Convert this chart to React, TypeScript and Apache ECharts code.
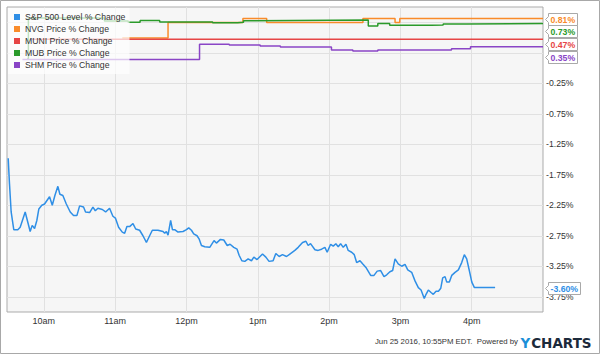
import { useEffect, useRef } from 'react';
import * as echarts from 'echarts';

// time = minutes since midnight, value = % change
const spxPoints: [number, number][] = [
  [570, -1.48], [571.1, -1.9], [572.5, -2.36], [574.7, -2.65], [578.1, -2.65], [580.1, -2.61],
  [584.3, -2.36], [588.5, -2.68], [590.2, -2.58], [592.2, -2.63], [594.1, -2.5], [595.8, -2.31],
  [598.3, -2.25], [600.6, -2.23], [604.8, -2.11], [607.1, -2.25], [609.3, -2.09], [611.8, -1.94],
  [613.5, -2.07], [616, -2.09], [618.9, -2.23], [622.2, -2.36], [625, -2.42], [627.8, -2.42],
  [630.1, -2.26], [633.4, -2.28], [635.1, -2.36], [638.5, -2.37], [641.3, -2.28], [643.3, -2.34],
  [645.5, -2.3], [649.2, -2.32], [652, -2.36], [655.3, -2.3], [658.1, -2.43], [660.2, -2.46],
  [662.9, -2.61], [666, -2.69], [668, -2.71], [669.9, -2.6], [672.2, -2.6], [675, -2.55],
  [677.3, -2.64], [680.6, -2.66], [683.4, -2.75], [686.3, -2.86], [689, -2.75], [691.3, -2.66],
  [696, -2.66], [700.3, -2.68], [701.7, -2.71], [703.1, -2.68], [704.5, -2.74], [706.7, -2.5],
  [708.2, -2.65], [710.1, -2.65], [712.9, -2.69], [717.1, -2.68], [720, -2.65], [721.9, -2.62],
  [724.2, -2.66], [726.1, -2.72], [728.9, -2.75], [730.6, -2.8], [732.6, -2.91], [735.4, -2.93],
  [739.6, -2.94], [743.2, -2.83], [745.2, -2.87], [748.6, -2.81], [751.4, -2.82], [754.3, -2.91],
  [756.7, -2.89], [759.8, -2.94], [762.6, -2.97], [764.3, -3.07], [766.6, -3.16], [769.1, -3.17],
  [771.9, -3.13], [774.7, -3.16], [776.7, -3.1], [779.4, -3.14], [784, -3.05], [786.8, -3.1],
  [789.5, -3.17], [792.9, -3.16], [795.2, -3.04], [798, -3.09], [800.8, -3.06], [804.2, -3.09],
  [807, -3.05], [811.2, -2.99], [814, -2.94], [817.7, -2.86], [820.5, -2.84], [822.4, -2.91],
  [824.4, -2.88], [828.1, -2.98], [830.8, -2.99], [833.7, -2.97], [836.5, -2.94], [838.4, -3.02],
  [841.3, -2.89], [843.5, -2.92], [845.7, -2.88], [847.7, -2.93], [849.7, -2.88], [851.9, -2.94],
  [854.2, -2.89], [856.1, -2.99], [859, -3.02], [861.2, -3.06], [863.2, -3.19], [866, -3.16],
  [868.2, -3.21], [871, -3.27], [875, -3.4], [877.8, -3.4], [880.5, -3.33], [883.4, -3.32],
  [886.2, -3.42], [888.5, -3.39], [891.2, -3.34], [893.5, -3.32], [895.5, -3.13], [898.2, -3.21],
  [901.1, -3.25], [903.9, -3.22], [906.2, -3.31], [909.5, -3.35], [912.3, -3.49], [915.1, -3.6],
  [917.4, -3.64], [920.1, -3.78], [921.6, -3.71], [923.5, -3.64], [925.8, -3.68], [927.7, -3.71],
  [930, -3.66], [932, -3.66], [934, -3.61], [935.6, -3.44], [937.6, -3.42], [939, -3.51],
  [941.2, -3.51], [943.2, -3.4], [946, -3.35], [948.8, -3.31], [951.6, -3.19], [953.8, -3.06],
  [955.8, -3.13], [958, -3.32], [960.1, -3.51], [962.3, -3.6], [979.7, -3.6],
];

// step series: value holds from its time until the next point
const nvgPoints: [number, number][] = [
  [666, 0.49], [704.5, 0.745], [767.5, 0.81], [787.5, 0.745], [868.5, 0.81],
  [895.5, 0.745], [899.5, 0.81], [1020, 0.81],
];
const muniPoints: [number, number][] = [[590, 0.47], [1020, 0.47]];
const mubPoints: [number, number][] = [
  [586, 0.15], [587, 0.82], [651, 0.77], [671, 0.75], [681, 0.78], [697.5, 0.755],
  [742, 0.74], [763, 0.75], [768, 0.775], [775, 0.785], [873, 0.69], [881, 0.73],
  [891, 0.7], [926, 0.705], [936, 0.72], [956, 0.73], [1020, 0.73],
];
const shmPoints: [number, number][] = [
  [582, 0.14], [731, 0.39], [756, 0.378], [782, 0.36], [799, 0.345], [842, 0.296],
  [860, 0.28], [881, 0.296], [943, 0.317], [959, 0.35], [1020, 0.35],
];

const seriesNames = [
  'S&P 500 Level % Change',
  'NVG Price % Change',
  'MUNI Price % Change',
  'MUB Price % Change',
  'SHM Price % Change',
];
const seriesColors = ['#2f8fe6', '#f98b2a', '#e64545', '#2a9a2a', '#8a45c6'];

const hourTicks = [600, 660, 720, 780, 840, 900, 960];
const hourLabels = ['10am', '11am', '12pm', '1pm', '2pm', '3pm', '4pm'];
const yGridValues = [-3.75, -3.25, -2.75, -2.25, -1.75, -1.25, -0.75, -0.25, 0.25, 0.75];
const yLabelValues = [-3.75, -3.25, -2.75, -2.25, -1.75, -1.25, -0.75, -0.25];
const footerText = 'Jun 25 2016, 10:55PM EDT.  Powered by';

const FONT = '"Liberation Sans", Arial, sans-serif';

export default function App() {
  const ref = useRef<HTMLDivElement>(null);

  useEffect(() => {
    if (!ref.current) return;
    const chart = echarts.init(ref.current, undefined, { renderer: 'svg' });
    const allPoints = [spxPoints, nvgPoints, muniPoints, mubPoints, shmPoints];

    chart.setOption({
      animation: false,
      backgroundColor: '#ffffff',
      grid: {
        left: 7, top: 7, width: 536, height: 305,
        show: true, backgroundColor: '#f6f6f6', borderColor: '#ababab', borderWidth: 1,
        containLabel: false,
      },
      legend: {
        orient: 'vertical', left: 8, top: 8, padding: [3, 4, 3, 6],
        itemGap: 0, itemWidth: 6, itemHeight: 6, icon: 'rect',
        selectedMode: false,
        backgroundColor: 'rgba(255,255,255,0.7)',
        textStyle: { fontSize: 8.7, color: '#333', lineHeight: 12, fontFamily: FONT },
        data: seriesNames,
      },
      xAxis: {
        type: 'value', min: 569, max: 1020,
        axisLine: { show: false },
        axisTick: { show: false, customValues: hourTicks },
        splitLine: { show: true, lineStyle: { color: '#e1e1e1', width: 1 } },
        axisLabel: {
          customValues: hourTicks,
          formatter: (v: number) => hourLabels[hourTicks.indexOf(v)] ?? '',
          margin: 4, fontSize: 9, color: '#333', fontFamily: FONT,
        },
      },
      yAxis: {
        type: 'value', position: 'right', min: -4, max: 1,
        axisLine: { show: false },
        axisTick: { show: false, customValues: yGridValues },
        splitLine: { show: true, lineStyle: { color: '#e1e1e1', width: 1 } },
        axisLabel: {
          customValues: yLabelValues,
          formatter: (v: number) => v.toFixed(2) + '%',
          margin: 3, fontSize: 8.7, color: '#333', fontFamily: FONT,
        },
      },
      series: allPoints.map((pts, i) => ({
        type: 'line',
        name: seriesNames[i],
        data: pts,
        step: i === 0 ? false : 'end',
        showSymbol: false,
        symbol: 'none',
        color: seriesColors[i],
        lineStyle: { width: 1.5, color: seriesColors[i] },
        itemStyle: { color: seriesColors[i] },
        silent: true,
        emphasis: { disabled: true },
        z: i === 0 ? 3 : 2,
      })),
    });

    // value tags on the right
    const plotRight = chart.convertToPixel({ xAxisIndex: 0 }, 1020) as number;
    const canvas = document.createElement('canvas');
    const ctx = canvas.getContext('2d')!;
    const tagFont = `bold 8.7px ${FONT}`;
    ctx.font = tagFont;
    const tags = allPoints.map((pts, i) => {
      const last = pts[pts.length - 1][1];
      return {
        text: last.toFixed(2) + '%',
        color: seriesColors[i],
        y: chart.convertToPixel({ yAxisIndex: 0 }, last) as number,
      };
    }).sort((a, b) => a.y - b.y);
    const gap = 12.7;
    for (let i = 1; i < tags.length; i++) {
      if (tags[i].y < tags[i - 1].y + gap) tags[i].y = tags[i - 1].y + gap;
    }
    const graphics: any[] = [];
    tags.forEach((t) => {
      const y = Math.round(t.y) + 0.5;
      const tip = plotRight + 2.5;
      const bx = plotRight + 5.5;
      const w = Math.ceil(ctx.measureText(t.text).width) + 4;
      graphics.push({
        type: 'polygon', z: 20, silent: true,
        shape: {
          points: [[tip, y], [bx, y - 3], [bx, y - 6], [bx + w, y - 6], [bx + w, y + 6], [bx, y + 6], [bx, y + 3]],
        },
        style: { fill: '#ffffff', stroke: '#a9a9a9', lineWidth: 1 },
      });
      graphics.push({
        type: 'text', z: 21, silent: true, x: bx + 2, y: y + 0.5,
        style: { text: t.text, font: tagFont, fill: t.color, align: 'left', verticalAlign: 'middle' },
      });
    });

    graphics.push({
      type: 'text', silent: true, x: 518, y: 341,
      style: { text: footerText, font: `7.8px ${FONT}`, fill: '#333', align: 'right', verticalAlign: 'middle' },
    });
    graphics.push({
      type: 'text', silent: true, x: 520.5, y: 342.6,
      style: { text: 'Y', font: 'bold 13.5px "DejaVu Sans"', fill: '#1b8fd8', align: 'left', verticalAlign: 'middle' },
    });
    graphics.push({
      type: 'text', silent: true, x: 531.2, y: 342.6,
      style: { text: 'CHARTS', font: 'bold 13.5px "DejaVu Sans"', fill: '#1c2a3b', align: 'left', verticalAlign: 'middle' },
    });
    graphics.push({
      type: 'rect', silent: true, z: 30,
      shape: { x: 0.5, y: 0.5, width: 599, height: 353 },
      style: { fill: 'none', stroke: '#a8a8a8', lineWidth: 1 },
    });

    chart.setOption({ graphic: graphics });

    return () => chart.dispose();
  }, []);

  return (
    <div
      ref={ref}
      style={{ position: 'absolute', left: 0, top: 0, width: 600, height: 354, background: '#fff' }}
    />
  );
}
